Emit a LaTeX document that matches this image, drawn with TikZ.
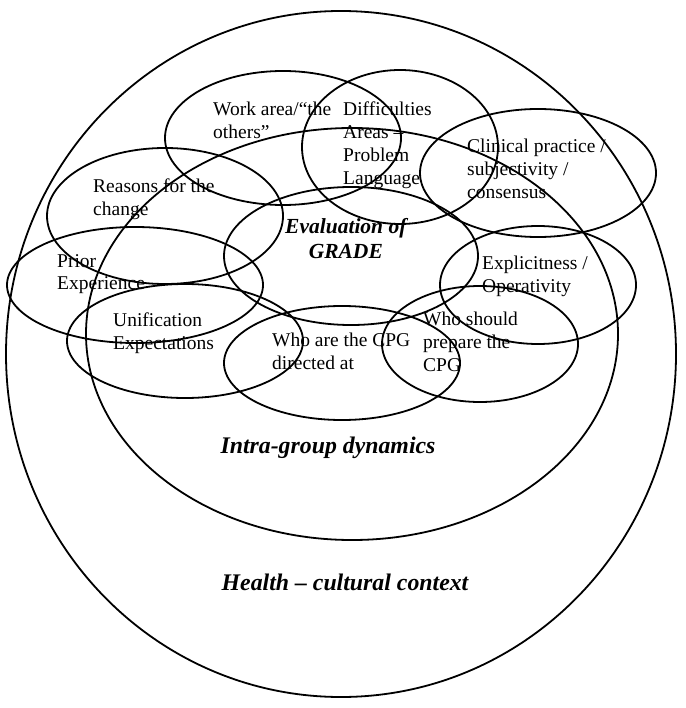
\documentclass[tikz,border=0pt]{standalone}
\usepackage{fontspec}
\setmainfont{Liberation Serif}
\usepackage{tikz}

\begin{document}
\begin{tikzpicture}[
  x=1pt, y=-1pt,
  ring/.style={draw, line width=1.8pt},
  lbl/.style={anchor=north west, align=left, inner sep=0pt, font=\fontsize{19.5}{22.8}\selectfont},
  title/.style={anchor=base, inner sep=0pt, font=\fontsize{23.8}{26}\selectfont\bfseries\itshape}
]
\useasboundingbox (0,0) rectangle (685,708);
% context and group
\draw[ring] (341,354) ellipse [x radius=335pt, y radius=343pt];
\draw[ring] (352,334) ellipse [x radius=266pt, y radius=206pt];
% themes
\draw[ring] (283,138) ellipse [x radius=118pt, y radius=67pt];
\draw[ring] (400,147) ellipse [x radius=98pt,  y radius=77pt];
\draw[ring] (538,173) ellipse [x radius=118pt, y radius=64pt];
\draw[ring] (165,216) ellipse [x radius=118pt, y radius=68pt];
\draw[ring] (351,256) ellipse [x radius=127pt, y radius=69pt];
\draw[ring] (135,285) ellipse [x radius=128pt, y radius=58pt];
\draw[ring] (538,285) ellipse [x radius=98pt,  y radius=59pt];
\draw[ring] (185,341) ellipse [x radius=118pt, y radius=57pt];
\draw[ring] (342,363) ellipse [x radius=118pt, y radius=57pt];
\draw[ring] (480,344) ellipse [x radius=98pt,  y radius=58pt];
% labels
\node[lbl] (work)    at (213,102) {Work area/“the\\others”};
\node[lbl] (diff)    at (343,102) {Difficulties\\Areas –\\Problem\\Language};
\node[lbl] (clin)    at (467,139) {Clinical practice /\\subjectivity /\\consensus};
\node[lbl] (reasons) at (93,179)  {Reasons for the\\change};
\node[lbl] (prior)   at (57,254)  {Prior\\Experience};
\node[lbl] (expl)    at (482,256) {Explicitness /\\Operativity};
\node[lbl] (unif)    at (113,313) {Unification\\Expectations};
\node[lbl] (whoare)  at (272,333) {Who are the CPG\\directed at};
\node[lbl] (whoprep) at (423,312) {Who should\\prepare the\\CPG};
\node[lbl, font=\fontsize{21.5}{25}\selectfont\bfseries\itshape, align=center] (grade) at (285,218) {Evaluation of\\GRADE};
\node[title] (intra)  at (328,453) {Intra-group dynamics};
\node[title] (health) at (345,590) {Health – cultural context};
\end{tikzpicture}
\end{document}
